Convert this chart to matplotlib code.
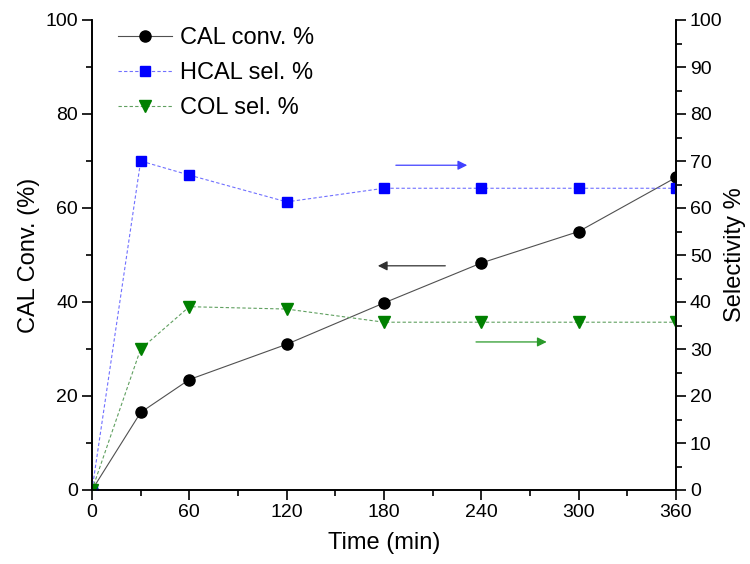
import numpy as np
import matplotlib
matplotlib.use("Agg")
import matplotlib.pyplot as plt
from matplotlib.ticker import MultipleLocator

plt.rcParams["font.family"] = ["Liberation Sans", "DejaVu Sans"]

time_min = [0, 30, 60, 120, 180, 240, 300, 360]
cal_conv = [0, 16.5, 23.5, 31.0, 39.8, 48.3, 55.0, 66.5]
hcal_sel = [0, 70.0, 67.0, 61.3, 64.2, 64.2, 64.2, 64.2]
col_sel = [0, 30.0, 39.0, 38.5, 35.7, 35.7, 35.7, 35.7]

fig = plt.figure(figsize=(7.5, 5.64), dpi=100)
ax = fig.add_axes([92 / 750, 74 / 564, 584 / 750, 470 / 564])
ax2 = ax.twinx()

l1, = ax.plot(time_min, cal_conv, "-", color="#505050", lw=0.8, marker="o",
              ms=8, mfc="black", mec="black", label="CAL conv. %")
l2, = ax2.plot(time_min, hcal_sel, "--", color="#7070ff", lw=0.8, dashes=(3, 2),
               marker="s", ms=7, mfc="blue", mec="blue", label="HCAL sel. %")
l3, = ax2.plot(time_min, col_sel, "--", color="#60a060", lw=0.8, dashes=(3, 2),
               marker="v", ms=8.5, mfc="green", mec="green", label="COL sel. %")

# direction arrows
ax2.annotate("", xy=(233, 69.1), xytext=(185.6, 69.1),
             arrowprops=dict(arrowstyle="-|>", color="#4040ff", lw=0.9, mutation_scale=14))
ax2.annotate("", xy=(174.5, 47.7), xytext=(219.5, 47.7),
             arrowprops=dict(arrowstyle="-|>", color="#303030", lw=0.9, mutation_scale=14))
ax2.annotate("", xy=(282, 31.5), xytext=(235, 31.5),
             arrowprops=dict(arrowstyle="-|>", color="#2a9a2a", lw=0.9, mutation_scale=14))

ax.set_xlim(0, 360)
ax.set_ylim(0, 100)
ax2.set_ylim(0, 100)
ax.xaxis.set_major_locator(MultipleLocator(60))
ax.xaxis.set_minor_locator(MultipleLocator(30))
ax.yaxis.set_major_locator(MultipleLocator(20))
ax.yaxis.set_minor_locator(MultipleLocator(10))
ax2.yaxis.set_major_locator(MultipleLocator(10))
ax2.yaxis.set_minor_locator(MultipleLocator(5))

for a in (ax, ax2):
    a.spines["top"].set_visible(False)
    for s in a.spines.values():
        s.set_linewidth(1.2)
    a.tick_params(which="major", direction="out", length=7, width=1.2,
                  labelsize=14, pad=3)
    a.tick_params(which="minor", direction="out", length=4, width=1.2)

ax.set_xlabel("Time (min)", fontsize=17, labelpad=8)
ax.set_ylabel("CAL Conv. (%)", fontsize=17, labelpad=4)
ax2.set_ylabel("Selectivity %", fontsize=17, labelpad=1)

ax.legend(handles=[l1, l2, l3], loc="upper left", bbox_to_anchor=(0.008, 1.03),
          frameon=False, fontsize=17, handlelength=2.3, handletextpad=0.35,
          labelspacing=0.55)

fig.savefig("out.png", dpi=100)
